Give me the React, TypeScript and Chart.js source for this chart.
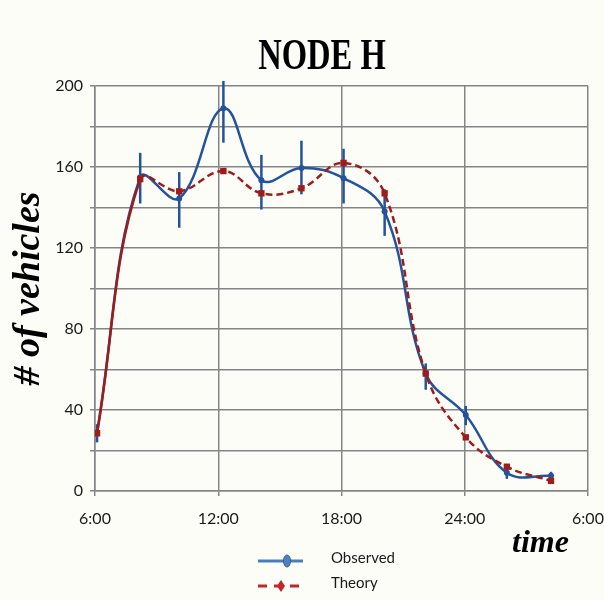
import React, { useEffect, useRef } from "react";
import { Chart, registerables } from "chart.js";

Chart.register(...registerables);

// ---- data ----
const hours = [6.1, 8.2, 10.1, 12.25, 14.1, 16.05, 18.1, 20.1, 22.1, 24.05, 26.05, 28.2];
const observed = [29, 155, 144.5, 189, 153.5, 159.5, 154.5, 138, 58, 37.5, 9, 7.5];
const observedErrLow = [24, 142, 130, 172, 139, 146.5, 142, 126, 50, 32.5, 6, 5];
const observedErrHigh = [33, 167, 157.5, 202.5, 166, 173, 169, 149, 63, 42, 11, 9.5];
const theory = [28.5, 154, 148, 158, 147, 149.5, 162, 147, 58, 26.5, 12, 5];
const xTickValues = [6, 12, 18, 24, 30];
const xTickLabels = ["6:00", "12:00", "18:00", "24:00", "6:00"];
const yLabelledTicks = [0, 40, 80, 120, 160, 200];
const seriesNames = ["Observed", "Theory"];
const chartTitle = "NODE H";
const yTitle = "# of vehicles";
const xTitle = "time";

const OBS_COLOR = "#24539c";
const THEORY_COLOR = "#9e1c1c";
const GRID = "#858585";
const BG = "#fdfdf8";

const decorPlugin = {
  id: "decor",
  beforeDraw(chart: any) {
    const { ctx, width, height } = chart;
    ctx.save();
    ctx.fillStyle = BG;
    ctx.fillRect(0, 0, width, height);
    ctx.restore();
  },
  beforeDatasetsDraw(chart: any) {
    const { ctx } = chart;
    const xs = chart.scales.x;
    const ys = chart.scales.y;
    ctx.save();
    ctx.strokeStyle = OBS_COLOR;
    ctx.lineWidth = 2.5;
    for (let i = 0; i < hours.length; i++) {
      const px = xs.getPixelForValue(hours[i]);
      ctx.beginPath();
      ctx.moveTo(px, ys.getPixelForValue(observedErrLow[i]));
      ctx.lineTo(px, ys.getPixelForValue(observedErrHigh[i]));
      ctx.stroke();
    }
    ctx.restore();
  },
  afterDraw(chart: any) {
    const { ctx } = chart;
    ctx.save();
    // Title
    ctx.fillStyle = "#000";
    ctx.textAlign = "center";
    ctx.textBaseline = "middle";
    ctx.font = "bold 44px 'Liberation Serif'";
    ctx.save();
    ctx.translate(322, 58);
    ctx.scale(0.74, 1);
    ctx.fillText(chartTitle, 0, 0);
    ctx.restore();

    // x axis title
    ctx.font = "italic bold 32px 'Liberation Serif'";
    ctx.textAlign = "left";
    ctx.textBaseline = "alphabetic";
    ctx.fillText(xTitle, 512, 552);

    // legend
    const lx0 = 258, lx1 = 303;
    const y1 = 561, y2 = 586;
    ctx.lineWidth = 3;
    ctx.strokeStyle = "#4a7ebb";
    ctx.beginPath();
    ctx.moveTo(lx0, y1);
    ctx.lineTo(lx1, y1);
    ctx.stroke();
    ctx.beginPath();
    ctx.ellipse(287, y1, 3.5, 6, 0, 0, Math.PI * 2);
    ctx.fillStyle = "#4f81bd";
    ctx.fill();
    ctx.lineWidth = 1;
    ctx.strokeStyle = "#385d8a";
    ctx.stroke();

    ctx.lineWidth = 3;
    ctx.strokeStyle = "#c0262b";
    ctx.setLineDash([9, 7]);
    ctx.beginPath();
    ctx.moveTo(lx0, y2);
    ctx.lineTo(lx1, y2);
    ctx.stroke();
    ctx.setLineDash([]);
    ctx.beginPath();
    ctx.moveTo(281, y2 - 6);
    ctx.lineTo(285, y2);
    ctx.lineTo(281, y2 + 6);
    ctx.lineTo(277, y2);
    ctx.closePath();
    ctx.fillStyle = "#c0262b";
    ctx.fill();

    ctx.fillStyle = "#1a1a1a";
    ctx.font = "15px Lato";
    ctx.textBaseline = "middle";
    ctx.fillText(seriesNames[0], 331, 558);
    ctx.fillText(seriesNames[1], 331, 583);
    ctx.restore();
  },
};

export default function App() {
  const ref = useRef<HTMLCanvasElement | null>(null);
  useEffect(() => {
    document.body.style.margin = "0";
    const canvas = ref.current;
    if (!canvas) return;
    const chart = new Chart(canvas, {
      type: "line",
      data: {
        datasets: [
          {
            label: seriesNames[1],
            data: hours.map((h, i) => ({ x: h, y: theory[i] })),
            borderColor: THEORY_COLOR,
            backgroundColor: THEORY_COLOR,
            borderWidth: 2.5,
            borderDash: [7, 4],
            segment: {
              borderDash: (c: any) => (c.p0DataIndex === 0 ? [] : [7, 4]),
            },
            tension: 0.4,
            pointStyle: "rect",
            pointRadius: 4.5,
            pointBorderWidth: 0,
            fill: false,
          },
          {
            label: seriesNames[0],
            data: hours.map((h, i) => ({ x: h, y: observed[i] })),
            borderColor: OBS_COLOR,
            backgroundColor: OBS_COLOR,
            borderWidth: 2.5,
            tension: 0.4,
            pointStyle: "circle",
            pointRadius: 3,
            pointBorderWidth: 0,
            fill: false,
          },
        ],
      },
      options: {
        responsive: false,
        animation: false,
        devicePixelRatio: 1,
        layout: { padding: { top: 86, right: 0, bottom: 0, left: 0 } },
        plugins: {
          legend: { display: false },
          title: { display: false },
          tooltip: { enabled: false },
        },
        scales: {
          x: {
            type: "linear",
            min: 6,
            max: 30,
            afterBuildTicks: (scale: any) => {
              scale.ticks = xTickValues.map((v) => ({ value: v }));
            },
            afterFit: (scale: any) => {
              scale.height = 109;
              scale.paddingRight = 16;
              scale.paddingLeft = 0;
            },
            ticks: {
              callback: (v: any) => {
                const idx = xTickValues.indexOf(Number(v));
                return idx >= 0 ? xTickLabels[idx] : "";
              },
              font: { family: "Lato", size: 16 },
              color: "#1a1a1a",
              padding: 13,
              maxRotation: 0,
            },
            grid: { color: GRID, lineWidth: 1.5, tickLength: 5 },
            border: { color: GRID, width: 1.5 },
          },
          y: {
            min: 0,
            max: 200,
            ticks: {
              stepSize: 20,
              callback: (v: any) => (yLabelledTicks.includes(Number(v)) ? String(v) : ""),
              font: { family: "Lato", size: 16 },
              color: "#1a1a1a",
              padding: 7,
            },
            afterFit: (scale: any) => {
              scale.width = 95;
            },
            grid: { color: GRID, lineWidth: 1.5, tickLength: 5 },
            border: { color: GRID, width: 1.5 },
            title: {
              display: true,
              text: yTitle,
              color: "#000",
              font: { family: "Liberation Serif", size: 38, weight: "bold", style: "italic", lineHeight: 1 },
              padding: { top: 10, bottom: 0 },
            },
          },
        },
      },
      plugins: [decorPlugin],
    } as any);
    return () => chart.destroy();
  }, []);
  return (
    <div style={{ width: 604, height: 600 }}>
      <canvas ref={ref} width={604} height={600} style={{ display: "block" }} />
    </div>
  );
}
